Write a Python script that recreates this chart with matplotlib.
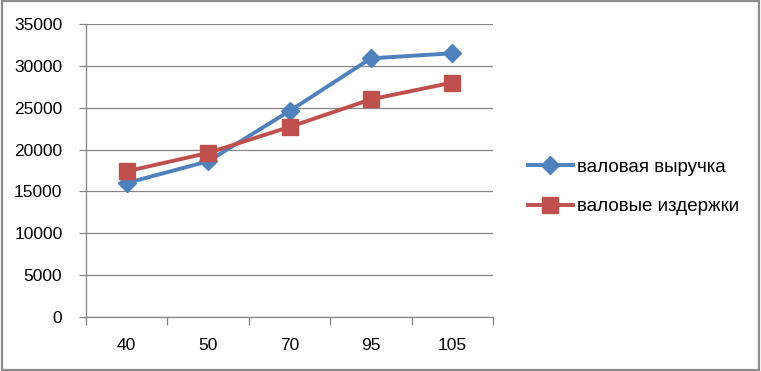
import matplotlib.pyplot as plt
from matplotlib.patches import Rectangle

categories = ["40", "50", "70", "95", "105"]
revenue = [16000, 18600, 24600, 30900, 31500]
costs = [17400, 19600, 22700, 26000, 28000]
series_names = ["валовая выручка", "валовые издержки"]

BLUE = "#4F81BD"
RED = "#C0504D"
GRID = "#868686"

plt.rcParams["font.family"] = ["Liberation Sans", "DejaVu Sans"]

fig = plt.figure(figsize=(7.61, 3.71), dpi=100)
ax = fig.add_axes([86 / 761, 1 - 317 / 371, 407 / 761, 293 / 371])

x = list(range(len(categories)))
ax.plot(x, revenue, color=BLUE, linewidth=2.8, marker="D", markersize=9.5,
        label=series_names[0], zorder=3)
ax.plot(x, costs, color=RED, linewidth=2.8, marker="s", markersize=12,
        label=series_names[1], zorder=3)

ax.set_xlim(-0.5, len(categories) - 0.5)
ax.set_ylim(0, 35000)
ax.set_yticks(range(0, 35001, 5000))
ax.set_xticks([i - 0.5 for i in range(len(categories) + 1)])
ax.set_xticklabels([])
ax.set_xticks(x, minor=True)
ax.set_xticklabels(categories, minor=True)
ax.tick_params(axis="x", which="major", length=6, color=GRID, width=0.9)
ax.tick_params(axis="x", which="minor", length=0, pad=15, labelsize=12.5)
ax.tick_params(axis="y", length=5, color=GRID, width=0.9, labelsize=12.5, pad=12)
ax.grid(axis="y", color=GRID, linewidth=0.9)
ax.set_axisbelow(True)
for side in ("top", "right"):
    ax.spines[side].set_visible(False)
for side in ("left", "bottom"):
    ax.spines[side].set_color(GRID)
    ax.spines[side].set_linewidth(0.9)

fig.legend(loc="center left", bbox_to_anchor=(511 / 761, 1 - 187 / 371),
           frameon=False, fontsize=13.5, handlelength=2.4, handletextpad=0.2,
           labelspacing=1.2)

fig.add_artist(Rectangle((0.002, 0.003), 0.996, 0.994, transform=fig.transFigure,
                         fill=False, edgecolor="#8C8C8C", linewidth=1.6))

fig.savefig("out.png", dpi=100)
